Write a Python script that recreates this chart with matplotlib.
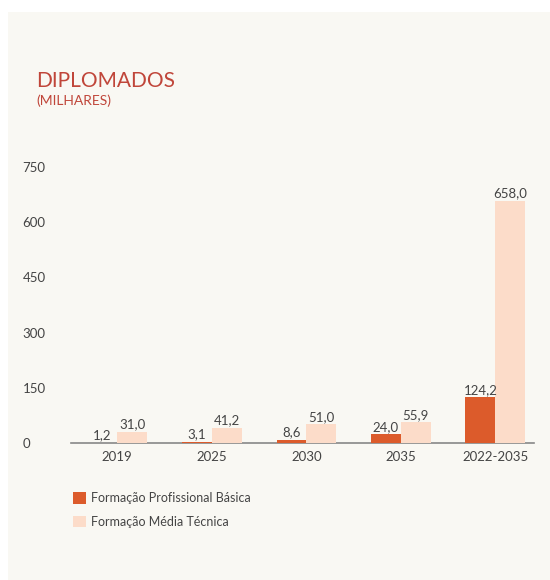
import matplotlib.pyplot as plt
import numpy as np
from matplotlib.patches import Rectangle

# dados (milhares de diplomados)
anos = ["2019", "2025", "2030", "2035", "2022-2035"]
basica = [1.2, 3.1, 8.6, 24.0, 124.2]
tecnica = [31.0, 41.2, 51.0, 55.9, 658.0]
yticks = [0, 150, 300, 450, 600, 750]

cor_basica = "#DC5B2B"
cor_tecnica = "#FCDCC9"
cor_fundo = "#F9F8F3"
cor_texto = "#444444"
cor_titulo = "#C0463A"

plt.rcParams["font.family"] = ["Lato", "DejaVu Sans"]

fig = plt.figure(figsize=(5.5, 5.8), dpi=100)
fig.patch.set_facecolor("white")
fig.patches.append(Rectangle((8 / 550, 0), 1 - 8 / 550, 1 - 12 / 580,
                             transform=fig.transFigure, facecolor=cor_fundo,
                             edgecolor="none", zorder=-10))

ax = fig.add_axes([71 / 550, 1 - 443 / 580, (534 - 71) / 550, (443 - 167) / 580])
ax.set_facecolor("none")

x = np.arange(len(anos))
w = 0.315
b1 = ax.bar(x - w / 2, basica, w, color=cor_basica, zorder=3,
            label="Formação Profissional Básica")
b2 = ax.bar(x + w / 2, tecnica, w, color=cor_tecnica, zorder=3,
            label="Formação Média Técnica")

for barras, vals in ((b1, basica), (b2, tecnica)):
    for r, v in zip(barras, vals):
        ax.text(r.get_x() + r.get_width() / 2, v + 4, f"{v:.1f}".replace(".", ","),
                ha="center", va="bottom", fontsize=9.5, color=cor_texto)

ax.set_xlim(-0.49, 4.41)
ax.set_ylim(0, 750)
ax.set_xticks(x)
ax.set_xticklabels(anos, fontsize=9.5, color=cor_texto)
ax.set_yticks(yticks)
ax.set_yticklabels([str(t) for t in yticks], fontsize=9.5, color=cor_texto, ha="left")
ax.tick_params(axis="y", length=0, pad=35)
ax.tick_params(axis="x", length=0, pad=6)
for s in ["top", "right", "left"]:
    ax.spines[s].set_visible(False)
ax.spines["bottom"].set_color("#888888")
ax.spines["bottom"].set_linewidth(1.2)
ax.spines["bottom"].set_zorder(2)

fig.text(36 / 550, 1 - 87 / 580, "DIPLOMADOS", fontsize=15, color=cor_titulo, va="baseline")
fig.text(36 / 550, 1 - 105 / 580, "(MILHARES)", fontsize=10, color=cor_titulo, va="baseline")

fig.legend(handles=[b1, b2], loc="upper left", bbox_to_anchor=(62 / 550, 1 - 481 / 580),
           frameon=False, fontsize=9, labelcolor=cor_texto, handlelength=1.0,
           handleheight=1.0, handletextpad=0.4, labelspacing=0.9)

fig.savefig("out.png", dpi=100, facecolor=fig.get_facecolor())
